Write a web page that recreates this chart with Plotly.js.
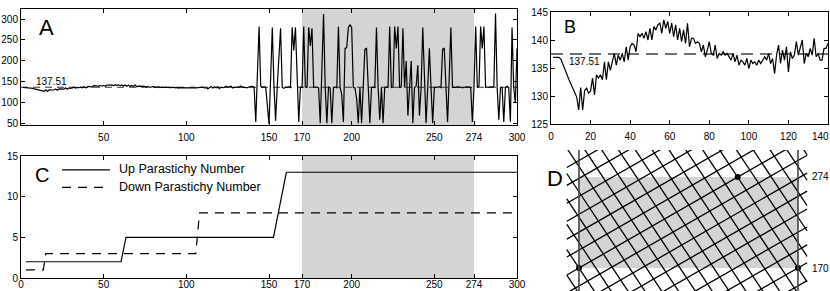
<!DOCTYPE html>
<html><head><meta charset="utf-8">
<script src="https://cdn.plot.ly/plotly-3.0.1.min.js"></script>
<style>html,body{margin:0;padding:0;background:#fff;}#chart{width:830px;height:291px;}</style>
</head><body><div id="chart"></div>
<script>
// ---- data ----
const meanAngle = 137.51;
const shadeStart = 170, shadeEnd = 274;
// divergence angles, steps 1..140 (panel B and start of A)
const earlyAngles = [136.9,136.9,136.9,136.9,136.6,135.6,134.8,133.8,133.0,132.2,131.4,130.6,129.8,127.5,131.5,127.5,
131.0,131.4,130.5,130.9,133.2,130.2,133.8,133.2,133.8,132.9,136.1,132.9,136.1,134.6,136.1,137.6,135.5,137.3,136.4,137.6,136.1,138.8,
136.4,138.8,139.4,139.1,137.9,141.2,140.6,141.2,140.3,141.5,140.0,142.1,140.0,142.4,141.8,142.7,143.0,141.2,143.6,142.1,143.3,141.2,
143.0,140.6,142.7,140.0,142.1,139.7,141.8,139.4,143.0,138.8,140.3,140.3,139.4,139.7,139.4,137.9,139.1,137.0,138.2,139.7,
137.6,137.3,139.1,136.7,137.6,137.3,137.9,137.3,137.6,137.0,136.4,137.6,136.1,137.3,135.5,136.4,136.1,135.5,136.7,134.9,
136.4,135.8,136.1,135.5,136.4,135.8,136.4,137.0,136.4,137.6,135.8,136.7,134.0,137.3,139.1,135.8,138.2,136.4,138.8,134.3,
137.9,136.7,137.3,139.7,137.3,138.8,140.0,135.8,137.6,137.0,138.5,137.3,140.3,137.0,137.6,136.4,136.4,138.5,138.5,139.4];
// divergence angles, steps 141..300
const lateAngles = [137,55,170,282,140,137,139,137,95,50,
160,280,140,58,140,200,278,137,135,138,
137,139,137,280,225,280,140,55,138,137,
282,138,137,280,236,278,138,137,138,136,
52,180,312,137,52,138,136,52,137,138,
136,282,137,120,55,230,232,280,286,280,
137,136,110,52,137,52,150,228,230,137,
52,137,138,137,280,137,60,137,52,137,
138,137,282,137,138,282,230,282,137,138,
278,137,200,70,137,200,52,137,140,190,
70,137,280,137,52,137,230,137,52,137,
138,137,139,137,228,230,137,55,160,280,
137,137,137,139,137,138,136,138,137,139,
137,137,55,137,282,137,140,282,230,282,
137,138,137,139,137,140,313,137,60,137,
137,55,137,140,137,55,280,137,100,230];
// parastichy numbers (panel C)
const upX = [3, 60.5, 63.5, 152.7, 160.5, 300];
const upY = [2, 2, 5, 5, 13, 13];
const downX = [3, 13.5, 15, 105.7, 108, 300];
const downY = [1, 1, 3, 3, 8, 8];
// lattice (panel D): angle (deg) vs step, straight parastichy segments
const latLeft = -20, latRight = 375;
const shallowY0 = [305.4,284.9,264.5,244.0,223.5,203.0,182.5,162.0,141.5,121.0,100.5,80.0,59.5,39.1,18.6,-1.9];
const shallowY1 = [462.8,442.3,421.9,401.4,380.9,360.4,339.9,319.4,298.9,278.4,257.9,237.4,216.9,196.5,176.0,155.5];
const steepY0 = [161.94,190.96,219.98,249.00,278.02,307.04,336.06,365.08,394.10,423.12,452.14,481.16,510.18,539.20,568.22,597.24,626.26,655.28,684.30,713.32];
const steepY1 = [-252.0,-223.0,-194.0,-165.0,-136.0,-106.9,-77.9,-48.9,-19.9,9.2,38.2,67.2,96.2,125.2,154.2,183.3,212.3,241.3,270.3,299.3];
const markX = [0, 360, 261];
const markY = [170, 170, 274];

// ---- build ----
const allAngles = earlyAngles.concat(lateAngles);
const stepsAll = allAngles.map((_, i) => i + 1);
const stepsEarly = earlyAngles.map((_, i) => i + 1);

const latX = [], latY = [];
shallowY0.forEach((y0, i) => { latX.push(latLeft, latRight, null); latY.push(y0, shallowY1[i], null); });
steepY0.forEach((y0, i) => { latX.push(latLeft, latRight, null); latY.push(y0, steepY1[i], null); });

const font = 'Liberation Sans, Arial, sans-serif';
const traces = [
  {x:[0,300], y:[meanAngle,meanAngle], xaxis:'x', yaxis:'y', mode:'lines', line:{color:'#333', width:1, dash:'7px,5px'}, hoverinfo:'skip'},
  {x:stepsAll, y:allAngles, xaxis:'x', yaxis:'y', mode:'lines', line:{color:'#000', width:1.2}},
  {x:[0,140], y:[meanAngle,meanAngle], xaxis:'x2', yaxis:'y2', mode:'lines', line:{color:'#444', width:1.5, dash:'12px,7px'}},
  {x:stepsEarly, y:earlyAngles, xaxis:'x2', yaxis:'y2', mode:'lines', line:{color:'#000', width:1.2}},
  {x:upX, y:upY, xaxis:'x3', yaxis:'y3', mode:'lines', line:{color:'#000', width:1.2}},
  {x:downX, y:downY, xaxis:'x3', yaxis:'y3', mode:'lines', line:{color:'#000', width:1.2, dash:'9px,7px'}},
  {x:latX, y:latY, xaxis:'x4', yaxis:'y4', mode:'lines', line:{color:'#000', width:1.3}, connectgaps:false},
  {x:markX, y:markY, xaxis:'x4', yaxis:'y4', mode:'markers', marker:{color:'#000', size:6}, cliponaxis:false}
];

const ax = (extra) => Object.assign({
  showline:true, linecolor:'#000', linewidth:1, mirror:'ticks', ticks:'inside', ticklen:4,
  tickcolor:'#000', showgrid:false, zeroline:false, tickfont:{family:font, size:10, color:'#000'},
  fixedrange:true
}, extra);

const H = 291, W = 830;
const ann = (text, px, py, size, extra) => Object.assign({text, xref:'paper', yref:'paper', x:px/W, y:1-py/H,
  xanchor:'center', yanchor:'middle', showarrow:false, font:{family:font, size, color:'#000'}}, extra || {});
const layout = {
  width:W, height:H, margin:{l:0,r:0,t:0,b:0}, showlegend:false,
  paper_bgcolor:'#fff', plot_bgcolor:'rgba(0,0,0,0)',
  xaxis: ax({domain:[21/W, 517/W], range:[0,300], tickvals:[50,100,150,170,200,250,274,300], anchor:'y', ticklabelstandoff:3}),
  yaxis: ax({domain:[1-125/H, 1-9/H], range:[47.6,323.8], tickvals:[50,100,150,200,250,300], anchor:'x'}),
  xaxis2: ax({domain:[551/W, 828/W], range:[0,140], tickvals:[0,20,40,60,80,100,120,140], ticktext:['0','20','40','60','80','100','120',''], anchor:'y2', ticklabelstandoff:3}),
  yaxis2: ax({domain:[1-124/H, 1-12/H], range:[125,145], tickvals:[125,130,135,140,145], anchor:'x2'}),
  xaxis3: ax({domain:[21/W, 517/W], range:[0,300], tickvals:[0,50,100,150,170,200,250,274,300], anchor:'y3', ticklabelstandoff:-3}),
  yaxis3: ax({domain:[1-278/H, 1-156/H], range:[0,15], tickvals:[0,5,10,15], anchor:'x3'}),
  xaxis4: {domain:[560/W, 820/W], range:[-31.2,396.2], visible:false, anchor:'y4', fixedrange:true},
  yaxis4: {domain:[0, 1-150/H], range:[143.7,304.9], visible:false, anchor:'x4', fixedrange:true},
  shapes: [
    {type:'rect', xref:'x', yref:'y domain', x0:shadeStart, x1:shadeEnd, y0:0, y1:1, fillcolor:'#d4d4d4', line:{width:0}, layer:'below'},
    {type:'rect', xref:'x3', yref:'y3 domain', x0:shadeStart, x1:shadeEnd, y0:0, y1:1, fillcolor:'#d4d4d4', line:{width:0}, layer:'below'},
    {type:'rect', xref:'x4', yref:'y4', x0:0, x1:360, y0:shadeStart, y1:shadeEnd, fillcolor:'#d4d4d4', line:{width:0}, layer:'below'},
    {type:'line', xref:'x4', yref:'y4 domain', x0:0, x1:0, y0:0, y1:1, line:{color:'#444', width:1.6}},
    {type:'line', xref:'x4', yref:'y4 domain', x0:360, x1:360, y0:0, y1:1, line:{color:'#444', width:1.6}},
    {type:'line', xref:'x3', yref:'y3', x0:24.8, x1:53.8, y0:13.3, y1:13.3, line:{color:'#000', width:1.2}},
    {type:'line', xref:'x3', yref:'y3', x0:24.8, x1:53.8, y0:11.15, y1:11.15, line:{color:'#000', width:1.2, dash:'9px,7px'}}
  ],
  annotations: [
    ann('A', 46.5, 28, 22),
    ann('B', 570, 27, 18),
    ann('C', 42, 175, 20),
    ann('D', 554.5, 178, 22),
    ann('140', 820, 136, 10),
    {text:'137.51', xref:'x', yref:'y', x:18.4, y:150, xanchor:'center', yanchor:'middle', showarrow:false, font:{family:font, size:10, color:'#000'}},
    {text:'137.51', xref:'x2', yref:'y2', x:16.7, y:136.1, xanchor:'center', yanchor:'middle', showarrow:false, font:{family:font, size:10, color:'#000'}},
    {text:'Up Parastichy Number', xref:'x3', yref:'y3', x:58, y:13.4, xanchor:'left', yanchor:'middle', showarrow:false, font:{family:font, size:12.5, color:'#000'}},
    {text:'Down Parastichy Number', xref:'x3', yref:'y3', x:58, y:11.25, xanchor:'left', yanchor:'middle', showarrow:false, font:{family:font, size:12.5, color:'#000'}},
    ann('274', 820, 176, 10),
    ann('170', 820, 268, 10)
  ]
};
Plotly.newPlot('chart', traces, layout, {staticPlot:true, displayModeBar:false});
</script></body></html>
